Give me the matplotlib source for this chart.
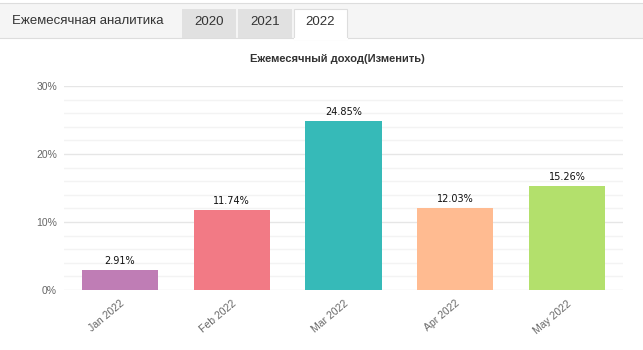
import matplotlib
matplotlib.use("Agg")
import matplotlib.pyplot as plt
from matplotlib.patches import Rectangle
from matplotlib.lines import Line2D
from matplotlib.ticker import MultipleLocator, FuncFormatter

months = ["Jan 2022", "Feb 2022", "Mar 2022", "Apr 2022", "May 2022"]
values = [2.91, 11.74, 24.85, 12.03, 15.26]
colors = ["#bf7db5", "#f27a85", "#36bab8", "#ffbb91", "#b3e06c"]
tabs = ["2020", "2021", "2022"]
tab_title = "Ежемесячная аналитика"
chart_title = "Ежемесячный доход(Изменить)"

W, H = 643, 350
fig = plt.figure(figsize=(W / 100, H / 100), dpi=100)
fig.patch.set_facecolor("white")
plt.rcParams['font.family'] = ['Liberation Sans', 'DejaVu Sans']

def fx(x):
    return x / W

def fy(y):
    return 1 - y / H

def rect(x0, y0, x1, y1, fc, ec="none", lw=0.8, z=1):
    fig.patches.append(Rectangle((fx(x0), fy(y1)), fx(x1) - fx(x0), fy(y0) - fy(y1),
                                 transform=fig.transFigure, facecolor=fc, edgecolor=ec,
                                 linewidth=lw, zorder=z))

def hline(x0, x1, y, c, lw=0.8, z=2):
    fig.lines.append(Line2D([fx(x0), fx(x1)], [fy(y), fy(y)], transform=fig.transFigure,
                            color=c, linewidth=lw, zorder=z))

# tab bar
rect(0, 3, W, 38, "#f5f5f5")
hline(0, W, 3, "#dddddd")
hline(0, W, 38, "#dddddd")
fig.text(fx(12), fy(21), tab_title, fontsize=9.5, color="#333333", va="center", ha="left")
tab_x = [(182, 236), (238, 292), (294, 347)]
for i, (t, (a, b)) in enumerate(zip(tabs, tab_x)):
    if i < 2:
        rect(a, 9, b, 38, "#e1e1e1", z=3)
    else:
        rect(a, 9, b, 39, "white", ec="#dddddd", z=3)
        hline(a + 0.5, b - 0.5, 38.6, "white", lw=1.5, z=4)
    fig.text(fx((a + b) / 2), fy(22), t, fontsize=9.5, color="#333333", va="center",
             ha="center", zorder=5)

# chart
ax = fig.add_axes([fx(64), fy(290), fx(623) - fx(64), fy(86) - fy(290)])
x = list(range(len(months)))
bars = ax.bar(x, values, width=0.68, color=colors, zorder=3)
ax.set_xlim(-0.5, len(months) - 0.5)
ax.set_ylim(0, 30)
ax.yaxis.set_major_locator(MultipleLocator(10))
ax.yaxis.set_minor_locator(MultipleLocator(2))
ax.yaxis.set_major_formatter(FuncFormatter(lambda v, p: f"{v:.0f}%"))
ax.grid(axis="y", which="major", color="#e6e6e6", linewidth=1.0, zorder=0)
ax.grid(axis="y", which="minor", color="#f3f3f3", linewidth=1.0, zorder=0)
for s in ax.spines.values():
    s.set_visible(False)
ax.tick_params(axis="y", which="both", length=0, labelsize=7.5, labelcolor="#666666", pad=5)
ax.tick_params(axis="x", length=0, labelsize=7.5, labelcolor="#666666", pad=6)
ax.set_xticks(x)
ax.set_xticklabels(months, rotation=40, ha="right", rotation_mode="anchor")
for xi, v in zip(x, values):
    ax.annotate(f"{v:.2f}%", (xi, v), xytext=(0, 6.5), textcoords="offset points",
                ha="center", va="center", fontsize=7, color="#111111",
                family=['DejaVu Sans'])
fig.text(fx(337), fy(59), chart_title, fontsize=8, fontweight="bold", color="#333333",
         ha="center", va="center")

fig.savefig("out.png", dpi=100)
